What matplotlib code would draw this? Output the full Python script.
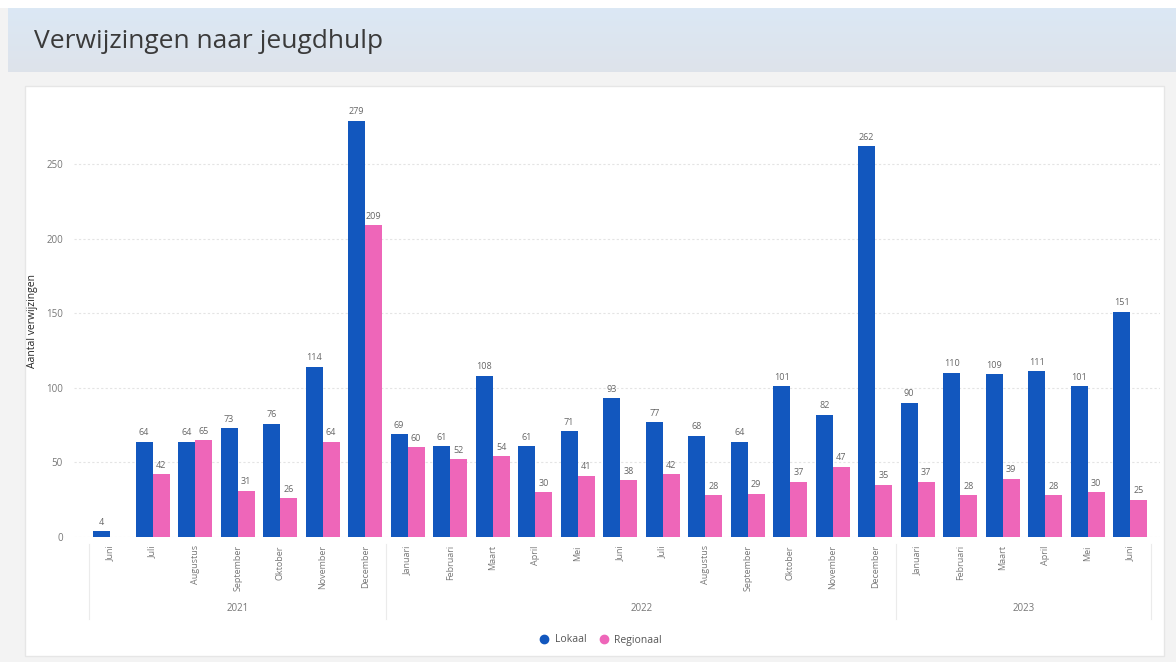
import numpy as np
import matplotlib.pyplot as plt
from matplotlib.patches import Rectangle
from matplotlib.lines import Line2D

plt.rcParams["font.family"] = ["Open Sans", "DejaVu Sans"]

years = ["2021", "2022", "2023"]
months_2021 = ["Juni", "Juli", "Augustus", "September", "Oktober", "November", "December"]
months_2022 = ["Januari", "Februari", "Maart", "April", "Mei", "Juni", "Juli",
               "Augustus", "September", "Oktober", "November", "December"]
months_2023 = ["Januari", "Februari", "Maart", "April", "Mei", "Juni"]
months = months_2021 + months_2022 + months_2023

lokaal = [4, 64, 64, 73, 76, 114, 279,
          69, 61, 108, 61, 71, 93, 77, 68, 64, 101, 82, 262,
          90, 110, 109, 111, 101, 151]
regionaal = [np.nan, 42, 65, 31, 26, 64, 209,
             60, 52, 54, 30, 41, 38, 42, 28, 29, 37, 47, 35,
             37, 28, 39, 28, 30, 25]

BLUE = "#1257BE"
PINK = "#EE66B9"
W, H = 1176, 662

fig = plt.figure(figsize=(W / 100, H / 100), dpi=100)
fig.patch.set_facecolor("#F3F3F3")

# title banner with a soft vertical gradient
ban = fig.add_axes([8 / W, 1 - 72 / H, 1 - 8 / W, 64 / H])
grad = np.linspace(0, 1, 100)[:, None]
cols = np.array([[0.86, 0.91, 0.96]]) * (1 - grad) + np.array([[0.87, 0.89, 0.92]]) * grad
ban.imshow(np.repeat(cols[:, None, :], 2, axis=1), aspect="auto", extent=[0, 1, 0, 1])
ban.set_axis_off()
fig.text(34 / W, 1 - 41 / H, "Verwijzingen naar jeugdhulp", fontsize=19, color="#3a3a3a",
         va="center", ha="left")
fig.patches.append(Rectangle((0, 1 - 8 / H), 1, 8 / H, transform=fig.transFigure,
                             facecolor="white", edgecolor="none", zorder=-1))

# white chart panel
fig.patches.append(Rectangle((25 / W, 1 - 656 / H), (1164 - 25) / W, (656 - 86) / H,
                             transform=fig.transFigure, facecolor="white",
                             edgecolor="#E6E6E6", linewidth=1, zorder=-1))

ax = fig.add_axes([74 / W, 1 - 537 / H, (1160 - 74) / W, 290 * 1.492 / H])
ax.set_facecolor("none")
x = np.arange(len(months))
bw = 0.40
b1 = ax.bar(x - bw / 2, lokaal, bw, color=BLUE, zorder=3)
b2 = ax.bar(x + bw / 2, regionaal, bw, color=PINK, zorder=3)
for bars, vals in ((b1, lokaal), (b2, regionaal)):
    for rect, v in zip(bars, vals):
        if np.isnan(v):
            continue
        ax.text(rect.get_x() + rect.get_width() / 2, v + 3, f"{v:g}", ha="center",
                va="bottom", fontsize=6.5, color="#666666")

ax.set_xlim(-0.85, 24.7)
ax.set_ylim(0, 290)
ax.set_yticks([0, 50, 100, 150, 200, 250])
ax.tick_params(axis="y", length=0, labelsize=7, labelcolor="#777777", pad=8)
ax.yaxis.grid(True, color="#E4E4E4", linestyle=(0, (2, 2)), linewidth=0.8, zorder=0)
ax.set_axisbelow(True)
ax.set_xticks(x)
ax.set_xticklabels(months, rotation=90, fontsize=6.5, color="#777777")
ax.tick_params(axis="x", length=0, pad=6)
for s in ax.spines.values():
    s.set_visible(False)
ax.set_ylabel("Aantal verwijzingen", fontsize=7.5, color="#252525")
ax.yaxis.set_label_coords(-36 / (1160 - 74), 0.5)

# year grouping below month labels
starts = [0, len(months_2021), len(months_2021) + len(months_2022), len(months)]
for i, yr in enumerate(years):
    mid = (starts[i] + starts[i + 1] - 1) / 2
    ax.text(mid, -48, yr, ha="center", va="center", fontsize=7, color="#777777",
            clip_on=False)
for b in starts:
    ax.add_line(Line2D([b - 0.5, b - 0.5], [-5, -55], color="#EBEBEB", linewidth=0.8,
                       clip_on=False))

# legend
fig.legend(handles=[Line2D([], [], marker="o", linestyle="", color=BLUE, markersize=6),
                    Line2D([], [], marker="o", linestyle="", color=PINK, markersize=6)],
           labels=["Lokaal", "Regionaal"], loc="center", bbox_to_anchor=(598 / W, 1 - 640 / H),
           ncol=2, frameon=False, fontsize=7.5, handletextpad=0.05, columnspacing=0.6,
           labelcolor="#555555")

fig.savefig("out.png", dpi=100)
